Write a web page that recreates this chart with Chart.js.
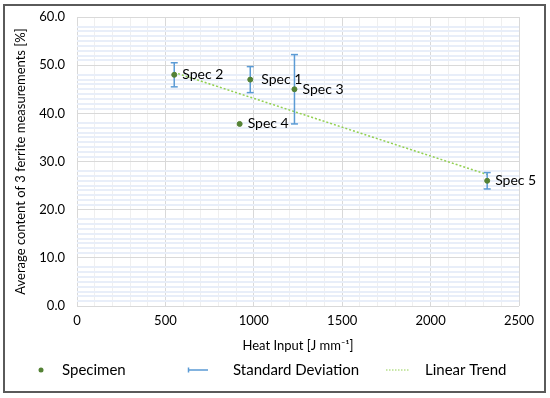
<!DOCTYPE html>
<html lang="en">
<head>
  <meta charset="UTF-8">
  <title>Ferrite content vs heat input</title>
  <script src="https://cdn.jsdelivr.net/npm/chart.js"></script>
  <style>
    body {
      margin: 0;
      background: #fff;
    }

    #box {
      position: absolute;
      left: 3px;
      top: 4px;
      width: 539px;
      height: 385px;
      border: 2px solid #5a5a5a;
    }
  </style>
</head>
<body>
  <div id="box">
    <canvas id="chart"></canvas>
  </div>
  <script>
    // values
    const specNames = ['Spec 2', 'Spec 1', 'Spec 4', 'Spec 3', 'Spec 5'];
    const heatInput = [550, 980, 920, 1230, 2320];
    const ferrite = [48.0, 47.0, 37.8, 45.0, 26.0];
    const stdDev = [2.5, 2.7, null, 7.2, 1.7];
    const trendX = [550, 2320];
    const trendY = [48.5, 27.3];
    const legendNames = ['Specimen', 'Standard Deviation', 'Linear Trend'];

    const specimenPts = heatInput.map((x, i) => ({ x: x, y: ferrite[i] }));

    // each bar = two points, then a gap
    const errorPts = [];
    heatInput.forEach((x, i) => {
      if (stdDev[i] == null) return;
      errorPts.push({ x: x, y: ferrite[i] - stdDev[i] });
      errorPts.push({ x: x, y: ferrite[i] + stdDev[i] });
      errorPts.push({ x: x, y: null });
    });

    const trendPts = trendX.map((x, i) => ({ x: x, y: trendY[i] }));

    const font = 'Lato, "Open Sans", sans-serif';
    const green = '#548235';
    const blue = '#5b9bd5';
    const lightGreen = '#92d050';

    // "Spec n" next to each point
    const specLabels = {
      id: 'specLabels',
      afterDatasetsDraw(chart) {
        const meta = chart.getDatasetMeta(2);
        const c = chart.ctx;
        c.save();
        c.font = '14px ' + font;
        c.fillStyle = '#000';
        c.textBaseline = 'middle';
        meta.data.forEach((pt, i) => {
          const dx = specNames[i] === 'Spec 1' ? 11 : 8;
          c.fillText(specNames[i], pt.x + dx, pt.y);
        });
        c.restore();
      }
    };

    // legend laid out like the spreadsheet one: fixed slots along the bottom
    const bottomLegend = {
      id: 'bottomLegend',
      afterDraw(chart) {
        const c = chart.ctx;
        const y = chart.height - 21;
        c.save();
        c.font = '15px ' + font;
        c.textBaseline = 'middle';

        // Specimen: dot
        c.beginPath();
        c.arc(36, y, 2.5, 0, Math.PI * 2);
        c.fillStyle = green;
        c.fill();

        // Standard Deviation: line with a small cap
        c.strokeStyle = blue;
        c.lineWidth = 1.5;
        c.beginPath();
        c.moveTo(183, y);
        c.lineTo(203, y);
        c.moveTo(183.5, y - 2.5);
        c.lineTo(183.5, y + 2.5);
        c.stroke();

        // Linear Trend: dotted line
        c.strokeStyle = lightGreen;
        c.lineWidth = 1;
        c.setLineDash([1.5, 1.5]);
        c.beginPath();
        c.moveTo(381, y);
        c.lineTo(405, y);
        c.stroke();
        c.setLineDash([]);

        c.fillStyle = '#000';
        c.fillText(legendNames[0], 57, y);
        c.fillText(legendNames[1], 228, y);
        c.fillText(legendNames[2], 420, y);
        c.restore();
      }
    };

    new Chart(document.getElementById('chart'), {
      type: 'scatter',
      data: {
        datasets: [
          {
            label: legendNames[2],
            data: trendPts,
            showLine: true,
            borderColor: lightGreen,
            backgroundColor: 'transparent',
            borderWidth: 1.5,
            borderDash: [2, 2],
            pointRadius: 0,
            order: 3
          },
          {
            label: legendNames[1],
            data: errorPts,
            showLine: true,
            spanGaps: false,
            borderColor: blue,
            backgroundColor: blue,
            borderWidth: 1.5,
            pointStyle: 'line',
            pointRadius: 3.5,
            pointBorderWidth: 1.5,
            pointBorderColor: blue,
            order: 2
          },
          {
            label: legendNames[0],
            data: specimenPts,
            backgroundColor: green,
            borderColor: green,
            pointRadius: 2.5,
            order: 1
          }
        ]
      },
      options: {
        responsive: true,
        maintainAspectRatio: false,
        animation: false,
        layout: {
          padding: { top: 11, right: 25, bottom: 37, left: 4 }
        },
        plugins: {
          tooltip: { enabled: false },
          legend: { display: false }
        },
        scales: {
          x: {
            type: 'linear',
            min: 0,
            max: 2500,
            afterFit(scale) { scale.height = 48; },
            ticks: {
              stepSize: 100,
              autoSkip: false,
              maxRotation: 0,
              padding: 7,
              color: '#000',
              font: { family: font, size: 13 },
              callback: v => (v % 500 === 0 ? String(v) : '')
            },
            grid: {
              drawTicks: false,
              color: ctx => (ctx.tick.value % 500 === 0 ? '#d9d9d9' : '#efefef'),
              lineWidth: 1
            },
            border: { display: false },
            title: {
              display: true,
              text: 'Heat Input [J mm\u207B\u00B9]',
              color: '#000',
              font: { family: font, size: 13 },
              padding: { top: 4, bottom: 0 }
            }
          },
          y: {
            min: 0,
            max: 60,
            afterFit(scale) {
              scale.width = 68;
              scale.paddingTop = 0;
              scale.paddingBottom = 0;
            },
            ticks: {
              stepSize: 1,
              autoSkip: false,
              padding: 12,
              color: '#000',
              font: { family: font, size: 13 },
              callback: v => (v % 10 === 0 ? v.toFixed(1) : '')
            },
            grid: {
              drawTicks: false,
              color: ctx => {
                const v = ctx.tick.value;
                if (v % 10 === 0) return '#d9d9d9';
                if (v % 10 === 9) return 'transparent';
                return '#e8eef9';
              },
              lineWidth: ctx => (ctx.tick.value % 10 === 0 ? 1 : 2)
            },
            border: { display: false },
            title: {
              display: true,
              text: 'Average content of 3 ferrite measurements [%]',
              color: '#000',
              font: { family: font, size: 13 },
              padding: { top: 4, bottom: 0 }
            }
          }
        }
      },
      plugins: [specLabels, bottomLegend]
    });
  </script>
</body>
</html>
